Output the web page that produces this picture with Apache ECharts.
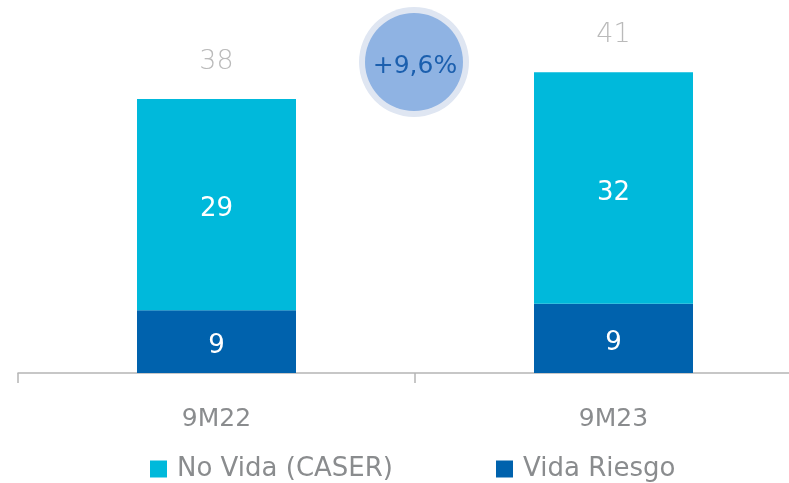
<!DOCTYPE html>
<html><head><meta charset="utf-8">
<script src="https://cdn.jsdelivr.net/npm/echarts@6/dist/echarts.min.js"></script>
<style>html,body{margin:0;padding:0;background:#fff}#c{width:789px;height:483px}</style>
</head><body><div id="c"></div>
<script>
const categories = ['9M22', '9M23'];
const vidaRiesgo = [8.7, 9.6];
const noVida = [29.3, 32.1];
const vidaLabels = ['9', '9'];
const noVidaLabels = ['29', '32'];
const totals = [38, 41];
const growthLabel = '+9,6%';

const chart = echarts.init(document.getElementById('c'));
const FONT = '"DejaVu Sans", sans-serif';
const THIN = '"DejaVu Sans ExtraLight", "DejaVu Sans", sans-serif';
chart.setOption({
  animation: false,
  grid: { left: 18, width: 794, top: 12.5, bottom: 110, containLabel: false, outerBoundsMode: 'none' },
  legend: {
    top: 451, left: 145, itemWidth: 17, itemHeight: 17, itemGap: 103,
    icon: 'rect',
    textStyle: { color: '#8a8c8e', fontSize: 26, fontFamily: FONT, padding: [0, 0, 0, 5] },
    data: ['No Vida (CASER)', 'Vida Riesgo']
  },
  xAxis: {
    type: 'category', data: categories,
    axisLine: { lineStyle: { color: '#b5b5b5', width: 1.5 } },
    axisTick: { show: true, length: 10, lineStyle: { color: '#b5b5b5', width: 1.5 } },
    axisLabel: { color: '#8a8c8e', fontSize: 25, fontFamily: FONT, margin: 34 }
  },
  yAxis: { type: 'value', min: 0, max: 50, show: false, splitLine: { show: false } },
  series: [
    { name: 'Vida Riesgo', type: 'bar', stack: 't', barWidth: 159,
      data: vidaRiesgo, itemStyle: { color: '#0062ad' },
      label: { show: true, position: 'inside', offset: [0, 5], color: '#fff', fontSize: 26, fontFamily: FONT,
        formatter: p => vidaLabels[p.dataIndex] } },
    { name: 'No Vida (CASER)', type: 'bar', stack: 't', barWidth: 159,
      data: noVida, itemStyle: { color: '#00b9db' },
      label: { show: true, position: 'inside', offset: [0, 5], color: '#fff', fontSize: 26, fontFamily: FONT,
        formatter: p => noVidaLabels[p.dataIndex] } },
    { name: 'Total', type: 'scatter', symbolSize: 0,
      data: noVida.map((v, i) => v + vidaRiesgo[i]),
      label: { show: true, position: 'top', distance: 24, color: '#a9a9a9', fontSize: 27, fontFamily: THIN, fontWeight: 200,
        formatter: p => String(totals[p.dataIndex]) } }
  ],
  graphic: [
    { type: 'circle', shape: { cx: 414, cy: 62, r: 55 }, style: { fill: '#dfe6f2' } },
    { type: 'circle', shape: { cx: 414, cy: 62, r: 49 }, style: { fill: '#8fb3e3' } },
    { type: 'text', x: 415, y: 66, style: { text: growthLabel, fill: '#1b5fae', font: '25px "DejaVu Sans"', align: 'center', verticalAlign: 'middle' } }
  ]
});
</script></body></html>
